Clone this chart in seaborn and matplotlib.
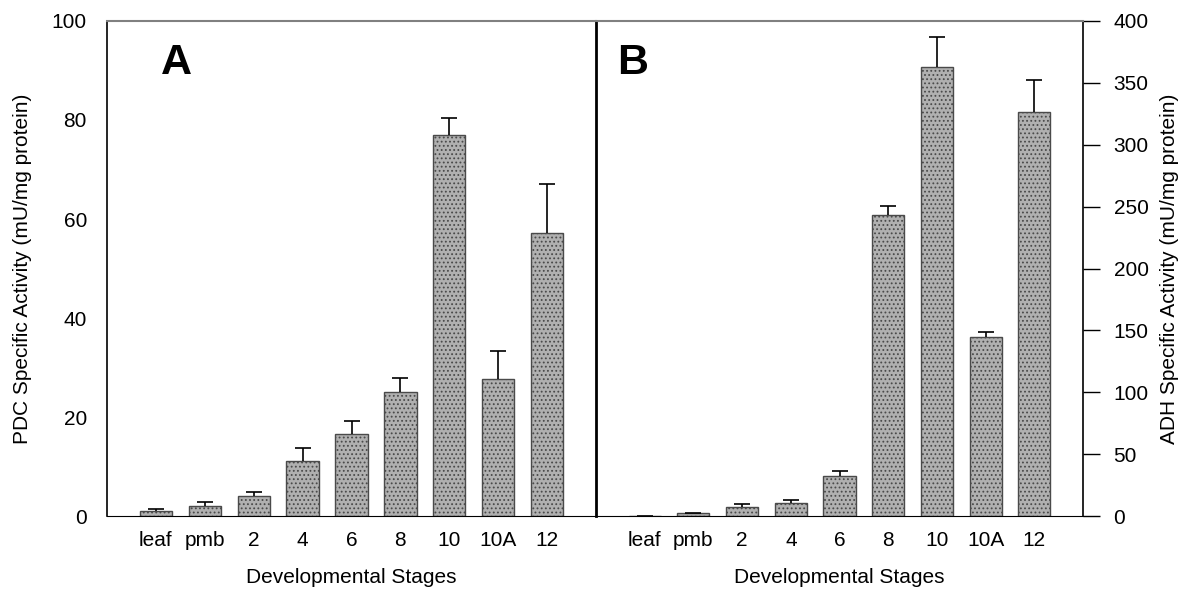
"""PDC and ADH specific activity across developmental stages (panels A and B)."""

import matplotlib.pyplot as plt
import numpy as np
import pandas as pd
import seaborn as sns

stages = ["leaf", "pmb", "2", "4", "6", "8", "10", "10A", "12"]
pdc_activity = [1.1, 2.1, 4.0, 11.2, 16.6, 25.1, 77.0, 27.7, 57.1]
pdc_error = [0.3, 0.8, 0.8, 2.6, 2.5, 2.8, 3.4, 5.6, 10.0]
adh_activity = [0.4, 2.2, 7.5, 10.8, 32.3, 243.0, 363.0, 145.0, 326.5]
adh_error = [0.0, 0.0, 1.9, 2.1, 4.1, 7.3, 23.8, 3.7, 26.0]

sns.set_style("white")
plt.rcParams["font.family"] = ["Liberation Sans", "DejaVu Sans"]
plt.rcParams["text.color"] = "black"
plt.rcParams["axes.labelcolor"] = "black"
plt.rcParams["xtick.color"] = "black"
plt.rcParams["ytick.color"] = "black"
plt.rcParams["hatch.color"] = "#555555"
plt.rcParams["hatch.linewidth"] = 0.8

fig = plt.figure(figsize=(11.84, 5.93), dpi=100)
ax_a = fig.add_axes([0.0904, 0.1298, 0.4130, 0.8348])
ax_b = fig.add_axes([0.5034, 0.1298, 0.4113, 0.8348])


def draw_panel(ax, values, errors, ymax, label, label_x):
    df = pd.DataFrame({"stage": stages, "value": values})
    sns.barplot(data=df, x="stage", y="value", ax=ax, errorbar=None,
                color="#b0b0b0", width=0.66, saturation=1,
                edgecolor="#4a4a4a", linewidth=1.0, hatch="....")
    pos = np.arange(len(stages))
    _, caps, _ = ax.errorbar(pos, values, yerr=[np.zeros(len(errors)), errors],
                             fmt="none", ecolor="black", elinewidth=1.2,
                             capsize=6, capthick=1.2)
    caps[0].set_visible(False)  # only the upper cap, as in the original
    ax.set_xlim(-1, len(stages))
    ax.set_ylim(0, ymax)
    ax.set_xlabel("Developmental Stages", fontsize=15, labelpad=13)
    ax.tick_params(axis="x", length=0, labelsize=15, pad=11)
    ax.tick_params(axis="y", length=11, width=1, labelsize=15, direction="out")
    ax.spines["top"].set_color("#808080")
    ax.spines["top"].set_linewidth(1.5)
    for side in ["left", "right", "bottom"]:
        ax.spines[side].set_color("black")
    ax.text(label_x, 0.916, label, transform=ax.transAxes, fontsize=31,
            fontweight="bold", ha="center", va="center")


draw_panel(ax_a, pdc_activity, pdc_error, 100, "A", 0.141)
ax_a.set_yticks(range(0, 101, 20))
ax_a.set_ylabel("PDC Specific Activity (mU/mg protein)", fontsize=15, labelpad=14)
ax_a.spines["right"].set_visible(False)
ax_a.spines["left"].set_linewidth(1.2)

draw_panel(ax_b, adh_activity, adh_error, 400, "B", 0.076)
ax_b.set_yticks(range(0, 401, 50))
ax_b.yaxis.tick_right()
ax_b.yaxis.set_label_position("right")
ax_b.set_ylabel("ADH Specific Activity (mU/mg protein)", fontsize=15,
                rotation=90, labelpad=8)
ax_b.tick_params(axis="y", length=12, pad=10)
ax_b.spines["left"].set_linewidth(2)
ax_b.spines["right"].set_linewidth(1.2)

fig.savefig("out.png", dpi=100)
